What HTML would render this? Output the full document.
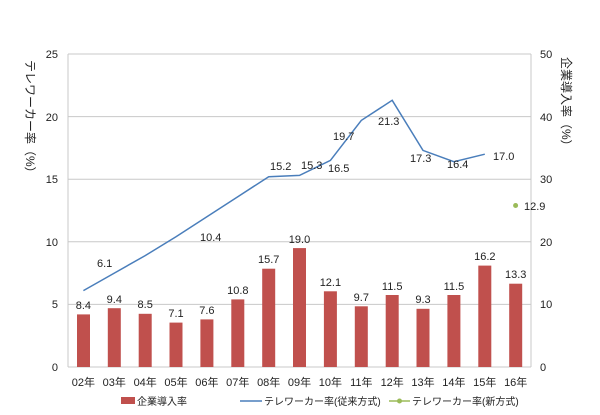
<!DOCTYPE html><html><head><meta charset="utf-8"><style>body{margin:0;background:#fff}svg{display:block}text{font-family:"Liberation Sans","Noto Sans CJK JP",sans-serif;fill:#222}</style></head><body>
<svg width="600" height="415" viewBox="0 0 600 415" xmlns="http://www.w3.org/2000/svg">
<g stroke="#c8c8c8" stroke-width="1">
<line x1="68" y1="54" x2="531" y2="54"/><line x1="68" y1="116.6" x2="531" y2="116.6"/><line x1="68" y1="179.2" x2="531" y2="179.2"/><line x1="68" y1="241.8" x2="531" y2="241.8"/><line x1="68" y1="304.4" x2="531" y2="304.4"/>
<line x1="68" y1="54" x2="68" y2="367"/><line x1="531" y1="54" x2="531" y2="367"/><line x1="68" y1="367" x2="531" y2="367"/>
</g>
<g font-size="11" text-anchor="end">
<text x="58" y="371">0</text><text x="58" y="308">5</text><text x="58" y="246">10</text><text x="58" y="183">15</text><text x="58" y="121">20</text><text x="58" y="58">25</text>
</g>
<g font-size="11" text-anchor="start">
<text x="540" y="371">0</text><text x="540" y="308">10</text><text x="540" y="246">20</text><text x="540" y="183">30</text><text x="540" y="121">40</text><text x="540" y="58">50</text>
</g>
<g font-size="12"><text transform="translate(26,60) rotate(90)">テレワーカー率（%）</text>
<text transform="translate(562,57) rotate(90)">企業導入率（%）</text></g>
<g fill="#c0504d">
<rect x="77" y="314.4" width="13" height="52.6"/>
<rect x="107.8" y="308.2" width="13" height="58.8"/>
<rect x="138.7" y="313.8" width="13" height="53.2"/>
<rect x="169.5" y="322.6" width="13" height="44.4"/>
<rect x="200.4" y="319.4" width="13" height="47.6"/>
<rect x="231.3" y="299.4" width="13" height="67.6"/>
<rect x="262.2" y="268.7" width="13" height="98.3"/>
<rect x="293" y="248.1" width="13" height="118.9"/>
<rect x="323.9" y="291.3" width="13" height="75.7"/>
<rect x="354.8" y="306.3" width="13" height="60.7"/>
<rect x="385.7" y="295" width="13" height="72"/>
<rect x="416.5" y="308.8" width="13" height="58.2"/>
<rect x="447.4" y="295" width="13" height="72"/>
<rect x="478.3" y="265.6" width="13" height="101.4"/>
<rect x="509.2" y="283.7" width="13" height="83.3"/>
</g>
<g font-size="11" text-anchor="middle">
<text x="83.4" y="309">8.4</text><text x="114.3" y="303">9.4</text><text x="145.2" y="308">8.5</text><text x="176" y="317">7.1</text><text x="206.9" y="314">7.6</text><text x="237.8" y="294">10.8</text><text x="268.7" y="263">15.7</text><text x="299.5" y="243">19.0</text><text x="330.4" y="286">12.1</text><text x="361.3" y="301">9.7</text><text x="392.2" y="290">11.5</text><text x="423" y="303">9.3</text><text x="453.9" y="290">11.5</text><text x="484.8" y="260">16.2</text><text x="515.7" y="278">13.3</text>
</g>
<polyline fill="none" stroke="#4a7ebb" stroke-width="1.5" points="83.4,290.6 114.3,273.1 145.2,255.6 176,236.8 206.9,216.8 237.8,196.7 268.7,176.7 299.5,175.4 330.4,160.4 361.3,120.4 392.2,100.3 423,150.4 453.9,161.7 484.8,154.2"/>
<circle cx="515.6" cy="205.5" r="2.5" fill="#9bbb59"/>
<g font-size="11">
<text x="97" y="267">6.1</text><text x="200" y="241">10.4</text><text x="270" y="170">15.2</text><text x="301" y="169">15.3</text><text x="328" y="172">16.5</text><text x="333" y="140">19.7</text><text x="378" y="125">21.3</text><text x="410" y="162">17.3</text><text x="447" y="168">16.4</text><text x="493" y="160">17.0</text><text x="524" y="210">12.9</text>
</g>
<g font-size="11" text-anchor="middle">
<text x="83.4" y="386">02年</text><text x="114.3" y="386">03年</text><text x="145.2" y="386">04年</text><text x="176" y="386">05年</text><text x="206.9" y="386">06年</text><text x="237.8" y="386">07年</text><text x="268.7" y="386">08年</text><text x="299.5" y="386">09年</text><text x="330.4" y="386">10年</text><text x="361.3" y="386">11年</text><text x="392.2" y="386">12年</text><text x="423" y="386">13年</text><text x="453.9" y="386">14年</text><text x="484.8" y="386">15年</text><text x="515.7" y="386">16年</text>
</g>
<rect x="121" y="397" width="14" height="7" fill="#c0504d"/><text x="137" y="405" font-size="10">企業導入率</text>
<line x1="240" y1="401" x2="262" y2="401" stroke="#4a7ebb" stroke-width="1.5"/><text x="264" y="405" font-size="10">テレワーカー率(従来方式)</text>
<line x1="389" y1="401" x2="410" y2="401" stroke="#9bbb59" stroke-width="1.5"/><circle cx="399.5" cy="401" r="2.5" fill="#9bbb59"/><text x="412" y="405" font-size="10">テレワーカー率(新方式)</text>
</svg></body></html>
